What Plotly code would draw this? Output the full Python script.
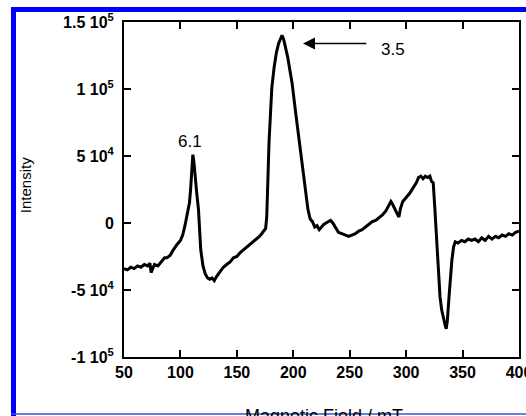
import plotly.graph_objects as go

# Magnetic field (mT)
field = [50, 53, 56, 59, 62, 65, 68, 71, 73, 74, 77, 80, 82, 84, 86, 88, 91, 93, 95, 97,
         100, 102, 104, 106, 108, 109, 110, 111, 112, 113, 114.5, 116, 118, 120, 122, 124,
         126, 128, 130, 132, 135, 138, 141, 144, 147, 150, 153, 156, 159, 162, 165, 168,
         170, 172, 174, 175.5, 176.5, 177.5, 178.5, 180, 181, 183, 185, 187, 189, 190,
         191.5, 193, 195, 197, 199, 202, 204, 206, 208, 209.5, 211, 213, 215, 217, 219,
         221, 223, 225, 227, 229, 231, 233, 235, 237, 240, 243, 246, 249, 252, 255, 258,
         261, 264, 267, 270, 273, 276, 279, 282, 284, 286.5, 288, 290, 292, 293.6, 295,
         297, 300, 303, 306, 309, 311, 313, 315, 317, 319, 321, 322.5, 324, 325.5, 326.5,
         327.5, 328.5, 330, 331.5, 333, 334.5, 335.5, 336.5, 338, 339, 340.5, 342, 343.5,
         346, 349, 352, 355, 358, 361, 364, 367, 370, 373, 376, 379, 382, 385, 388, 391,
         394, 397, 400]

# Intensity in units of 1e4
intensity_1e4 = [-3.4, -3.5, -3.3, -3.4, -3.2, -3.3, -3.1, -3.2, -3.0, -3.7, -3.1, -3.2,
                 -3.0, -2.8, -2.6, -2.6, -2.4, -2.1, -1.8, -1.6, -1.3, -0.9, -0.2, 0.6,
                 1.5, 2.5, 3.7, 5.1, 4.5, 3.4, 2.2, 1.0, -2.0, -3.2, -3.8, -4.1, -4.2,
                 -4.1, -4.3, -4.0, -3.6, -3.3, -3.1, -2.9, -2.6, -2.5, -2.2, -2.0, -1.8,
                 -1.6, -1.4, -1.2, -1.0, -0.8, -0.6, -0.4, 0.5, 3.5, 6.0, 8.5, 10.1, 11.6,
                 12.7, 13.4, 13.9, 14.0, 13.7, 13.2, 12.4, 11.4, 10.4, 8.3, 6.9, 5.6, 4.3,
                 3.2, 2.0, 1.0, 0.3, 0.1, -0.3, -0.2, -0.5, -0.3, -0.1, 0.0, 0.1, 0.2, 0.0,
                 -0.3, -0.7, -0.8, -0.9, -1.0, -0.9, -0.8, -0.6, -0.5, -0.3, -0.1, 0.1,
                 0.2, 0.4, 0.6, 0.9, 1.2, 1.6, 1.4, 1.0, 0.7, 0.45, 1.1, 1.6, 1.9, 2.2,
                 2.6, 3.0, 3.4, 3.5, 3.3, 3.5, 3.4, 3.5, 3.1, 3.0, 1.0, -0.5, -2.5, -4.0,
                 -5.5, -6.5, -7.2, -7.6, -7.9, -7.3, -5.5, -4.3, -2.8, -1.8, -1.4, -1.5,
                 -1.3, -1.4, -1.2, -1.3, -1.2, -1.4, -1.1, -1.3, -1.0, -1.2, -1.0, -1.1,
                 -0.9, -1.0, -0.8, -0.9, -0.7, -0.6]

intensity = [v * 1e4 for v in intensity_1e4]

x_ticks = [50, 100, 150, 200, 250, 300, 350, 400]
y_ticks = [-1e5, -5e4, 0, 5e4, 1e5, 1.5e5]
y_ticklabels = ["-1 10<sup>5</sup>", "-5 10<sup>4</sup>", "0", "5 10<sup>4</sup>",
                "1 10<sup>5</sup>", "1.5 10<sup>5</sup>"]

peak_labels = ["6.1", "3.5"]
peak_label_pos = [(108.5, 6.05e4), (288.5, 12.95e4)]
arrow_tip = (208.6, 13.4e4)
arrow_tail = (266.0, 13.4e4)

FONT = "Liberation Sans, Arial, sans-serif"

fig = go.Figure()
fig.add_trace(go.Scatter(x=field, y=intensity, mode="lines",
                         line=dict(color="black", width=3), showlegend=False,
                         hoverinfo="skip"))

axis_common = dict(showline=True, linecolor="black", linewidth=2, mirror="ticks",
                   ticks="inside", ticklen=7, tickwidth=2, tickcolor="black",
                   showgrid=False, zeroline=False, automargin=False,
                   ticklabeloverflow="allow",
                   tickfont=dict(family=FONT, size=16, color="black", weight="bold"))

fig.update_layout(
    template="none",
    width=526, height=416,
    margin=dict(l=124, r=7, t=22, b=59, autoexpand=False),
    paper_bgcolor="white", plot_bgcolor="white",
    xaxis=dict(range=[50, 400], tickvals=x_ticks, **axis_common),
    yaxis=dict(range=[-1e5, 1.5e5], tickvals=y_ticks, ticktext=y_ticklabels,
               ticklabelstandoff=5, **axis_common),
)

# peak labels
for txt, (px, py) in zip(peak_labels, peak_label_pos):
    fig.add_annotation(x=px, y=py, xref="x", yref="y", text=txt, showarrow=False,
                       font=dict(family=FONT, size=17, color="black"))

# arrow
fig.add_annotation(x=arrow_tip[0], y=arrow_tip[1], ax=arrow_tail[0], ay=arrow_tail[1],
                   xref="x", yref="y", axref="x", ayref="y", text="", showarrow=True,
                   arrowhead=2, arrowsize=1.6, arrowwidth=1.5, arrowcolor="black")

# axis titles
fig.add_annotation(x=-0.2506, y=0.513, xref="paper", yref="paper", text="Intensity",
                   textangle=-90, showarrow=False, xanchor="center", yanchor="middle",
                   font=dict(family=FONT, size=15, color="black"))
fig.add_annotation(x=0.506, y=-0.177, xref="paper", yref="paper",
                   text="Magnetic Field / mT", showarrow=False, xanchor="center",
                   yanchor="middle", font=dict(family=FONT, size=18, color="black"))

# blue frame
fig.add_shape(type="rect", xref="paper", yref="paper", x0=-0.2861, x1=-0.2734,
              y0=-0.2, y1=1.0448, fillcolor="#0000ff", line=dict(width=0))
fig.add_shape(type="rect", xref="paper", yref="paper", x0=-0.2861, x1=1.03,
              y0=1.0299, y1=1.0448, fillcolor="#0000ff", line=dict(width=0))
fig.add_shape(type="line", xref="paper", yref="paper", x0=-0.2861, x1=1.03,
              y0=-0.170, y1=-0.170, line=dict(color="#3355dd", width=1.5))

fig.write_html("out.html", config={"displayModeBar": False},
               post_script="document.body.style.margin='0';"
                           "document.body.style.overflow='hidden';")
